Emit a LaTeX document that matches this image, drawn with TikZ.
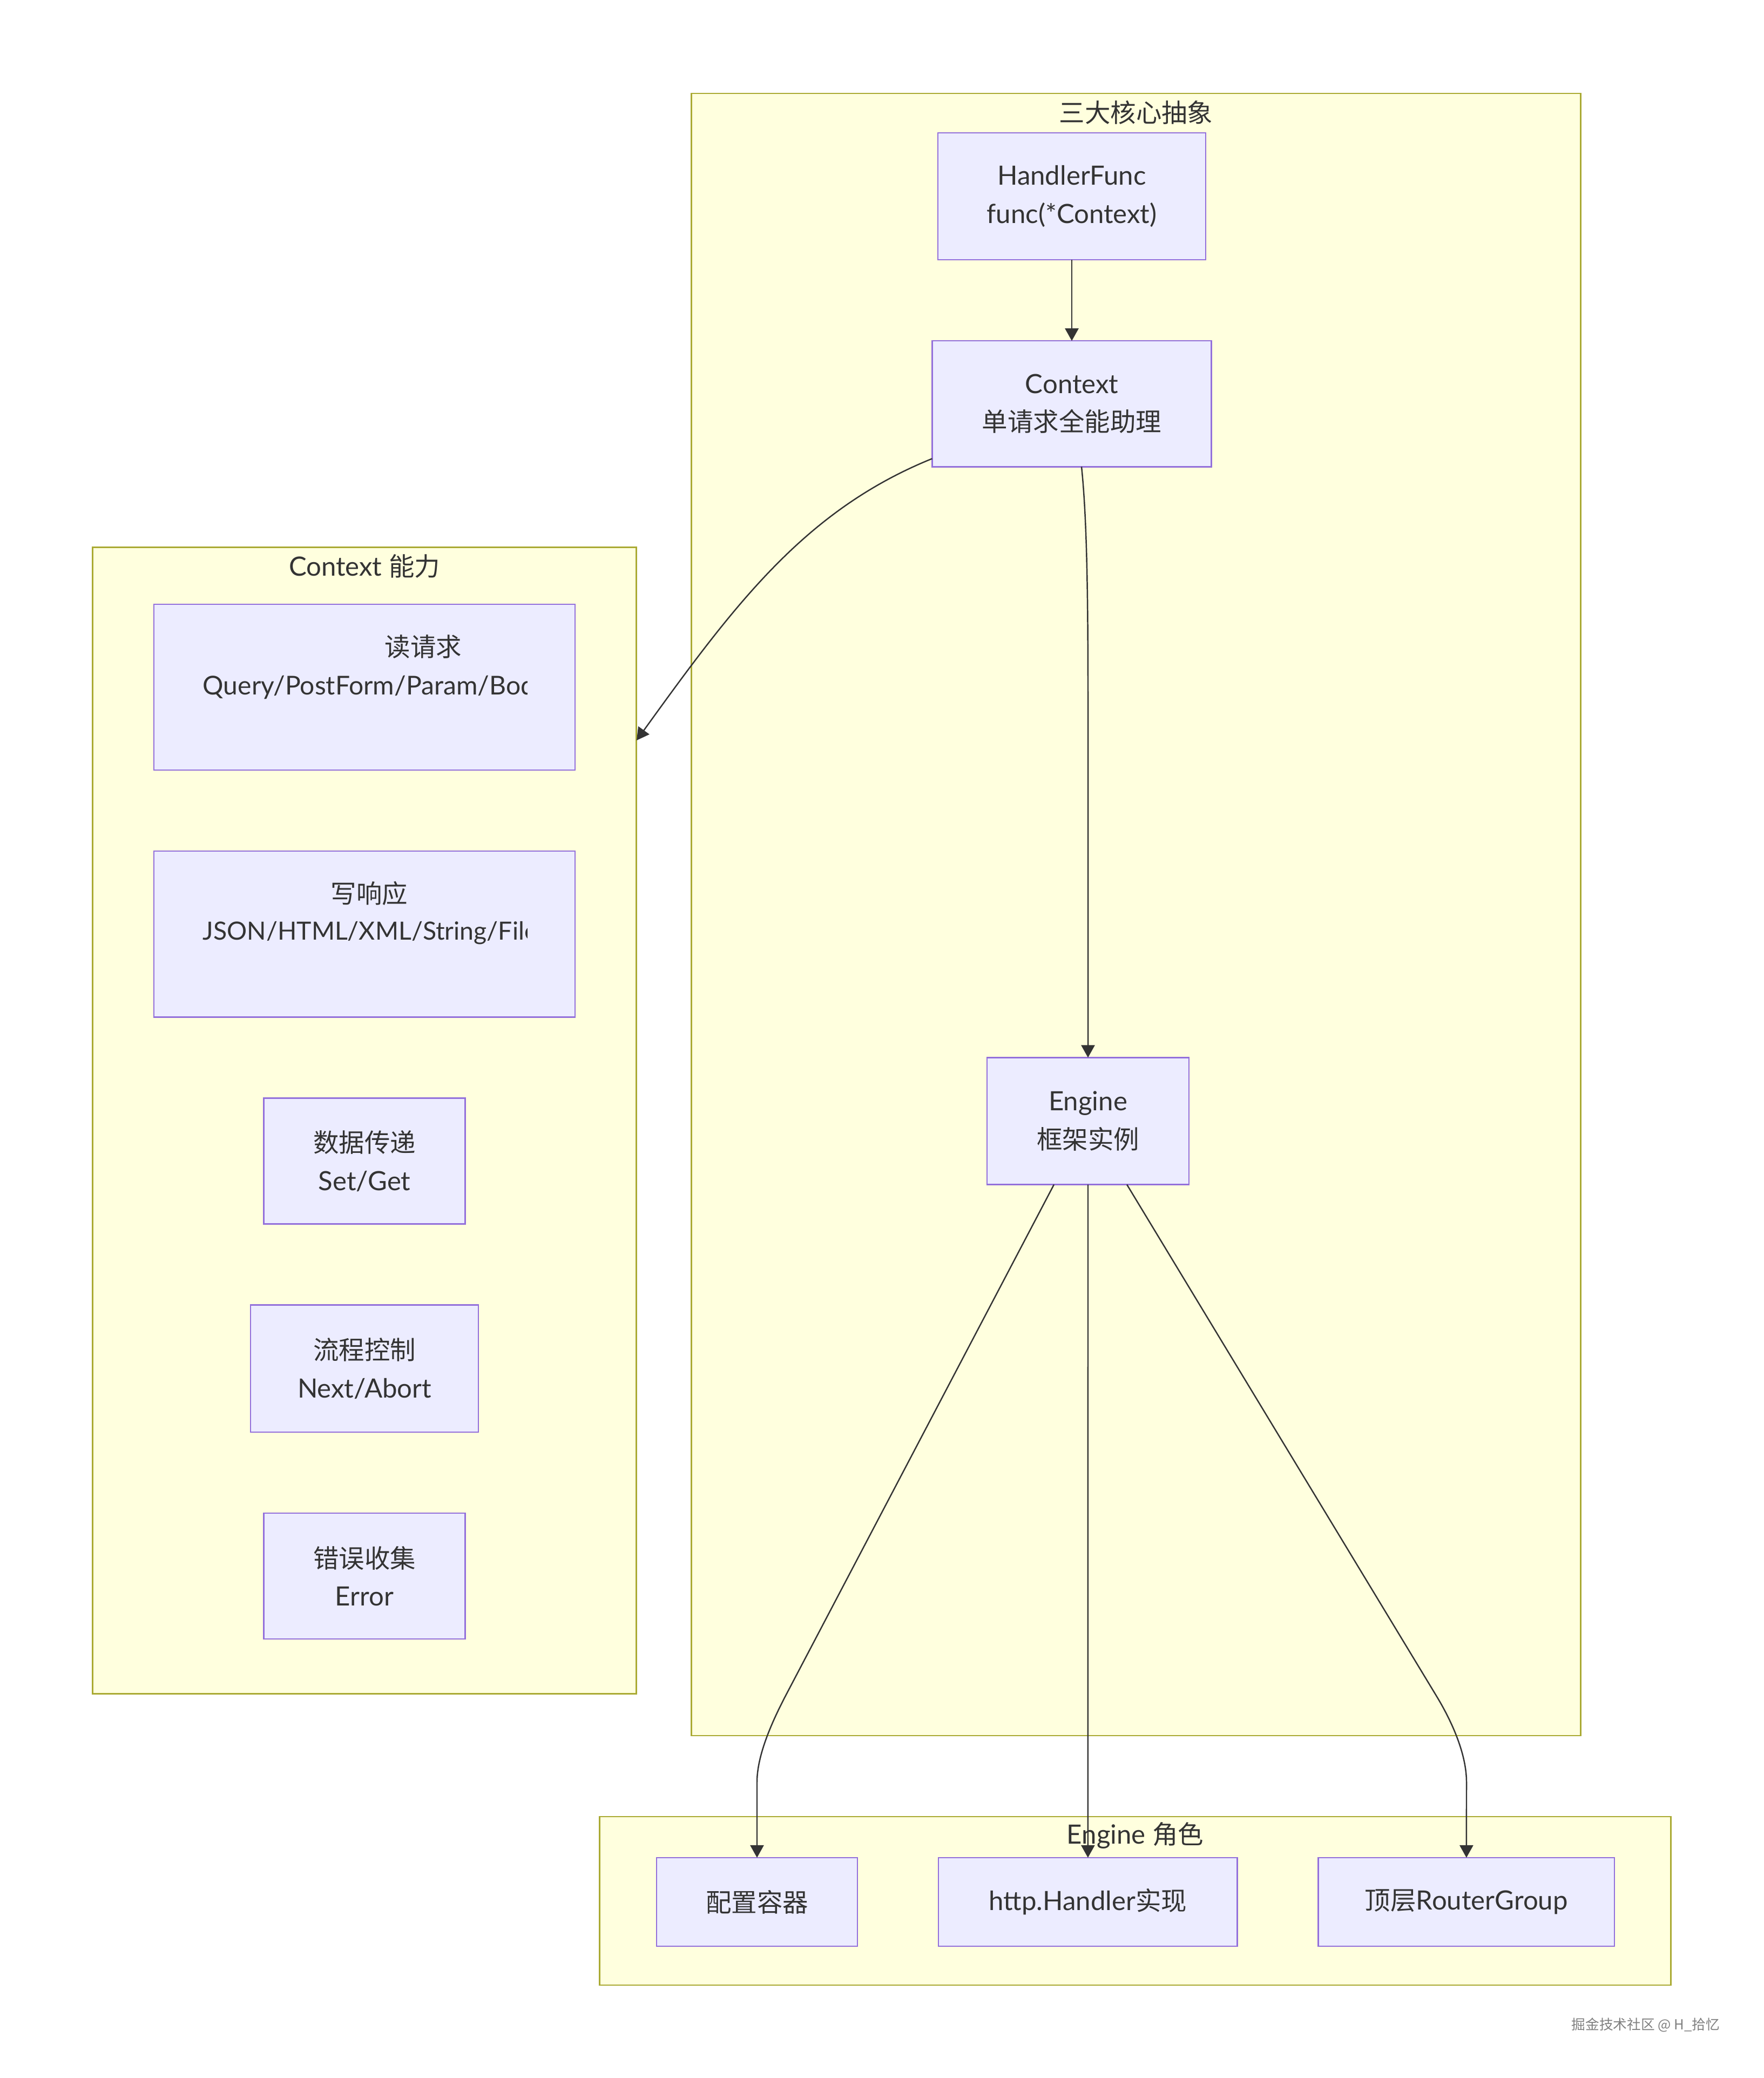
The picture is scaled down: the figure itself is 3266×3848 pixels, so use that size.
\documentclass[tikz,border=0pt]{standalone}
\usepackage{fontspec}
\setmainfont{Lato}[Scale=1.035]
\newfontfamily\zh{Noto Sans CJK SC}
\usetikzlibrary{arrows.meta,positioning}
\definecolor{nodefill}{HTML}{ECECFF}
\definecolor{nodeline}{HTML}{9370DB}
\definecolor{grpfill}{HTML}{FFFFDE}
\definecolor{grpline}{HTML}{AAAA33}
\definecolor{ink}{HTML}{333333}

\begin{document}
\begin{tikzpicture}[x=0.01cm,y=-0.01cm,>={Triangle[length=0.23cm,width=0.25cm]},
    node distance=1.5cm,font=\fontsize{13.5}{20}\selectfont,
    box/.style={draw=nodeline,fill=nodefill,line width=0.7pt,text=ink,align=center,inner sep=0pt,outer sep=0pt,minimum height=2.33cm},
    grp/.style={draw=grpline,fill=grpfill,line width=0.75pt,inner sep=0pt,outer sep=0pt},
    txt/.style={text=ink,inner sep=0pt},
    flow/.style={->,draw=ink,line width=0.7pt}]
    \fill[white] (0,0) rectangle (3266,3848);
    \useasboundingbox (0,0) rectangle (3266,3848);

    % groups
    \node[grp,minimum width=16.46cm,minimum height=30.39cm] (core) at (2104,1693.5) {};
    \node[grp,minimum width=10.06cm,minimum height=21.22cm] (ctxgrp) at (675,2075) {};
    \node[grp,minimum width=19.83cm,minimum height=3.12cm] (enggrp) at (2102.5,3520) {};
    \node[txt] (coret) at ([yshift=-0.35cm]core.north) {\zh 三大核心抽象};
    \node[txt] (ctxgrpt) at ([yshift=-0.35cm]ctxgrp.north) {Context {\zh 能力}};
    \node[txt] (enggrpt) at ([yshift=-0.35cm]enggrp.north) {Engine {\zh 角色}};

    % core abstractions
    \node[box,minimum width=4.96cm,minimum height=2.35cm] (hf) at (1985,363.5) {HandlerFunc\\func(*Context)};
    \node[box,minimum width=5.17cm] (ctx) [below=of hf] {Context\\{\zh 单请求全能助理}};
    \node[box,minimum width=3.74cm,minimum height=2.35cm] (eng) at (2015,2076) {Engine\\{\zh 框架实例}};

    % context abilities
    \node[box,minimum width=7.8cm,minimum height=3.07cm] (rd) at (675,1272.5) {};
    \node[box,minimum width=7.8cm,minimum height=3.07cm] (wr) [below=of rd] {};
    \node[box,minimum width=3.73cm] (sg) [below=of wr] {{\zh 数据传递}\\Set/Get};
    \node[box,minimum width=4.22cm,minimum height=2.35cm] (fc) [below=of sg] {{\zh 流程控制}\\Next/Abort};
    \node[box,minimum width=3.73cm] (er) [below=of fc] {{\zh 错误收集}\\Error};
    \node[txt] (rdt) at (784,1198) {\zh 读请求};
    \node[txt] (wrt) at (684,1654) {\zh 写响应};
    \begin{scope}
        \clip (375,1150) rectangle (976,1800);
        \node[txt,anchor=west,font=\fontsize{13.2}{20}\selectfont] (rdsub) at (375,1273) {Query/PostForm/Param/Body};
        \node[txt,anchor=west,font=\fontsize{12.75}{20}\selectfont] (wrsub) at (375,1728) {JSON/HTML/XML/String/File};
    \end{scope}

    % engine roles
    \node[box,minimum width=3.72cm,minimum height=1.64cm] (cfg) at (1402,3522) {\zh 配置容器};
    \node[box,minimum width=5.53cm,minimum height=1.64cm] (hh) [right=of cfg] {http.Handler{\zh 实现}};
    \node[box,minimum width=5.48cm,minimum height=1.64cm] (rg) [right=of hh] {{\zh 顶层}RouterGroup};

    \node[text=gray,inner sep=0pt,font=\zh\fontsize{7.3}{9}\selectfont] (mark) at (3048,3750) {掘金技术社区 @ H\_拾忆};

    \coordinate (ctxin) at (1179,1371);
    \draw[flow] (hf) -- (ctx);
    \draw[flow] ([yshift=0.15cm]ctx.south west) .. controls (1490,945) and (1360,1120) .. (ctxin);
    \draw[flow] ([xshift=0.18cm]ctx.south) .. controls (2013,960) and (2015,1100) .. (2015,1300) -- (eng);
    \draw[flow] ([xshift=-0.63cm]eng.south) -- (1455,3140) .. controls (1430,3188) and (1402,3250) .. (1402,3300) -- (cfg);
    \draw[flow] (eng) -- (hh);
    \draw[flow] ([xshift=0.72cm]eng.south) -- (2660,3140) .. controls (2691,3191) and (2716,3250) .. (2716,3300) -- (rg);
\end{tikzpicture}
\end{document}
